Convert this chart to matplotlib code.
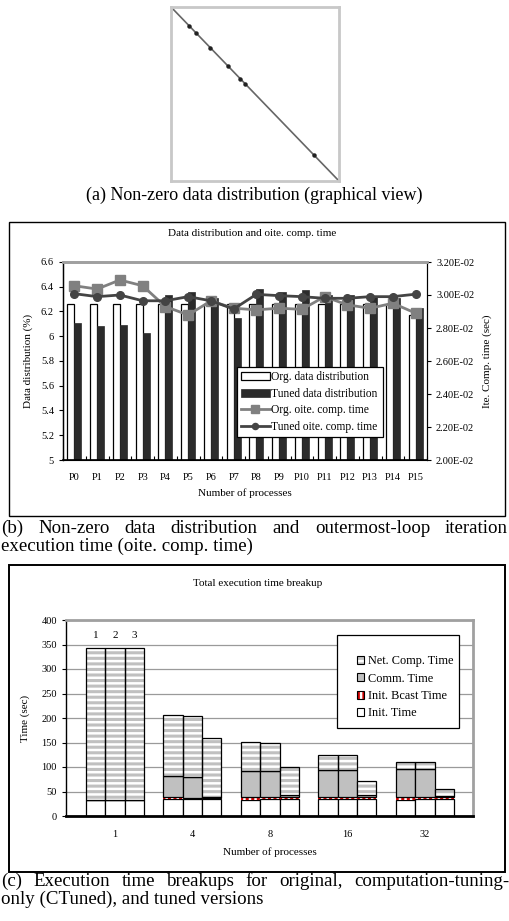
import matplotlib
matplotlib.use('Agg')
import matplotlib.pyplot as plt
import numpy as np
from matplotlib.patches import Rectangle, Patch
from matplotlib.lines import Line2D
from matplotlib.legend_handler import HandlerTuple

plt.rcParams['font.family'] = ['Liberation Serif', 'DejaVu Serif']
plt.rcParams['hatch.linewidth'] = 2.2

# ---------------- data ----------------
# (a) sparse matrix: positions (fraction along diagonal) of denser dots
diag_dots = [0.109, 0.149, 0.234, 0.337, 0.412, 0.44, 0.85]

# (b)
procs = ['P0', 'P1', 'P2', 'P3', 'P4', 'P5', 'P6', 'P7',
         'P8', 'P9', 'P10', 'P11', 'P12', 'P13', 'P14', 'P15']
org_dist = [6.26, 6.26, 6.26, 6.26, 6.26, 6.26, 6.26, 6.26,
            6.26, 6.26, 6.26, 6.26, 6.26, 6.26, 6.26, 6.17]
tuned_dist = [6.11, 6.08, 6.09, 6.03, 6.33, 6.36, 6.31, 6.15,
              6.38, 6.36, 6.37, 6.33, 6.33, 6.32, 6.31, 6.23]
org_time = [0.03056, 0.03036, 0.03091, 0.03056, 0.02930, 0.02879, 0.02964, 0.02920,
            0.02910, 0.02920, 0.02913, 0.02990, 0.02940, 0.02920, 0.02950, 0.02890]
tuned_time = [0.03008, 0.02990, 0.03000, 0.02965, 0.02965, 0.02990, 0.02965, 0.02915,
              0.03004, 0.02996, 0.02990, 0.02980, 0.02980, 0.02990, 0.02990, 0.03005]
left_ticks = [5, 5.2, 5.4, 5.6, 5.8, 6, 6.2, 6.4, 6.6]
left_labels = ['5', '5.2', '5.4', '5.6', '5.8', '6', '6.2', '6.4', '6.6']
right_ticks = [0.020, 0.022, 0.024, 0.026, 0.028, 0.030, 0.032]
right_labels = ['2.00E-02', '2.20E-02', '2.40E-02', '2.60E-02', '2.80E-02', '3.00E-02', '3.20E-02']

# (c)  versions: original, CTuned, tuned
groups = ['1', '4', '8', '16', '32']
version_labels = ['1', '2', '3']
init_time = [[32, 35, 33, 35, 33], [32, 34, 35, 35, 35], [32, 35, 35, 35, 35]]
bcast_time = [[0, 4, 5, 3, 5], [0, 3, 3, 3, 3], [0, 2, 3, 3, 3]]
comm_time = [[0, 42, 53, 55, 57], [0, 43, 53, 55, 57], [0, 2, 4, 4, 3]]
net_comp = [[310, 126, 61, 31, 15], [310, 124, 59, 31, 15], [310, 121, 58, 29, 15]]
c_ticks = [0, 50, 100, 150, 200, 250, 300, 350, 400]

# ---------------- figure ----------------
W, H = 509, 921
fig = plt.figure(figsize=(W / 100, H / 100), dpi=100)


def ax_px(x0, y0, x1, y1):
    return fig.add_axes([x0 / W, 1 - y1 / H, (x1 - x0) / W, (y1 - y0) / H])


def frame_px(x0, y0, x1, y1, lw=1.0):
    fig.patches.append(Rectangle((x0 / W, 1 - y1 / H), (x1 - x0) / W, (y1 - y0) / H,
                                 transform=fig.transFigure, fill=False,
                                 edgecolor='black', linewidth=lw, zorder=0))


def justified(words, y, x0, x1, fs):
    texts = [fig.text(0, 1 - y / H, w, fontsize=fs, va='center', ha='left') for w in words]
    fig.canvas.draw()
    r = fig.canvas.get_renderer()
    widths = [t.get_window_extent(r).width for t in texts]
    gap = (x1 - x0 - sum(widths)) / (len(words) - 1)
    x = x0
    for t, w in zip(texts, widths):
        t.set_x(x / W)
        x += w + gap


CAP_FS = 13.6

# ---------------- (a) ----------------
axa = ax_px(171, 7, 339, 181)
axa.set_xlim(0, 1)
axa.set_ylim(0, 1)
axa.plot([0, 1], [1, 0], color='#666666', lw=1.2)
d = np.array(diag_dots)
axa.plot(d, 1 - d, 'o', color='#222222', ms=2.2)
axa.set_xticks([])
axa.set_yticks([])
for s in axa.spines.values():
    s.set_color('#c8c8c8')
    s.set_linewidth(2)
fig.text(254 / W, 1 - 195 / H, '(a) Non-zero data distribution (graphical view)',
         fontsize=13, ha='center', va='center')

# ---------------- (b) ----------------
frame_px(9, 222, 505, 516, lw=1.0)
fig.text(252 / W, 1 - 233 / H, 'Data distribution and oite. comp. time',
         fontsize=8, ha='center', va='center')
axb = ax_px(63, 262, 427, 460)
x = np.arange(len(procs))
bw = 0.31
axb.bar(x - bw / 2, np.array(org_dist) - 5, bw, bottom=5, color='white',
        edgecolor='black', lw=0.9, label='Org. data distribution', zorder=2)
axb.bar(x + bw / 2, np.array(tuned_dist) - 5, bw, bottom=5, color='#2b2b2b',
        edgecolor='#2b2b2b', lw=0.5, label='Tuned data distribution', zorder=2)
axb.set_xlim(-0.5, len(procs) - 0.5)
axb.set_ylim(5, 6.6)
axb.set_yticks(left_ticks)
axb.set_yticklabels(left_labels)
axb.set_xticks(x)
axb.set_xticklabels(procs)
axb.set_xticks(np.arange(-0.5, len(procs)), minor=True)
axb.tick_params(axis='x', which='major', length=0, labelsize=7.5, pad=9)
axb.tick_params(axis='x', which='minor', direction='in', length=3, width=0.8)
axb.tick_params(axis='y', labelsize=7.5, length=3, width=0.8, direction='out')
axb.set_ylabel('Data distribution (%)', fontsize=8, labelpad=6)
axb.set_xlabel('Number of processes', fontsize=8, labelpad=5)
axb.spines['top'].set_color('#a0a0a0')
axb.spines['top'].set_linewidth(2)
axb.spines['left'].set_linewidth(1)
axb.spines['bottom'].set_linewidth(1.2)

axb2 = axb.twinx()
axb2.plot(x, org_time, '-s', color='#808080', lw=2, ms=6.5, label='Org. oite. comp. time', zorder=3)
axb2.plot(x, tuned_time, '-o', color='#444444', lw=2, ms=5.5, label='Tuned oite. comp. time', zorder=4)
axb2.set_ylim(0.020, 0.032)
axb2.set_yticks(right_ticks)
axb2.set_yticklabels(right_labels)
axb2.tick_params(axis='y', labelsize=7.5, length=3, width=0.8, direction='out')
axb2.set_ylabel('Ite. Comp. time (sec)', fontsize=8, labelpad=6)
axb2.spines['top'].set_color('#a0a0a0')
axb2.spines['top'].set_linewidth(2)
h1, l1 = axb.get_legend_handles_labels()
h2, l2 = axb2.get_legend_handles_labels()
legb = axb2.legend(h1 + h2, l1 + l2, loc='upper left',
                   bbox_to_anchor=((237 - 63) / 364, 1 - (441 - 262) / 198,
                                   (383 - 237) / 364, (441 - 367) / 198),
                   mode='expand', fontsize=8.3, frameon=True, fancybox=False,
                   edgecolor='black', framealpha=1, borderpad=0.35,
                   handlelength=2.5, handleheight=0.7, handletextpad=0.1,
                   labelspacing=0.4, borderaxespad=0, markerscale=0.8)
legb.get_frame().set_linewidth(0.9)

justified('(b) Non-zero data distribution and outermost-loop iteration'.split(),
          528, 1, 508, CAP_FS)
fig.text(1 / W, 1 - 546 / H, 'execution time (oite. comp. time)', fontsize=CAP_FS,
         ha='left', va='center')

# ---------------- (c) ----------------
frame_px(9, 565, 505, 872, lw=1.4)
fig.text(258 / W, 1 - 583 / H, 'Total execution time breakup',
         fontsize=8, ha='center', va='center')
axc = ax_px(66, 620, 473, 816)
gx = np.arange(len(groups))
cw = 0.25
for v in range(3):
    xs = gx + (v - 1) * cw
    ini = np.array(init_time[v])
    bc = np.array(bcast_time[v])
    cm = np.array(comm_time[v])
    nt = np.array(net_comp[v])
    axc.bar(xs, ini, cw, color='white', edgecolor='black', lw=0.9, zorder=2)
    axc.bar(xs, bc, cw, bottom=ini, color='white', edgecolor='#d00000', hatch='|||', lw=0, zorder=2)
    axc.bar(xs, cm, cw, bottom=ini + bc, color='#c0c0c0', edgecolor='black', lw=0.9, zorder=2)
    axc.bar(xs, nt, cw, bottom=ini + bc + cm, color='white', edgecolor='#c0c0c0',
            hatch='---', lw=0, zorder=2)
    axc.bar(xs, nt, cw, bottom=ini + bc + cm, fill=False, edgecolor='black', lw=0.9, zorder=3)
    tot0 = init_time[v][0] + bcast_time[v][0] + comm_time[v][0] + net_comp[v][0]
    axc.text(gx[0] + (v - 1) * cw, tot0 + 26, version_labels[v], fontsize=8,
             ha='center', va='center')
axc.set_xlim(-0.63, 4.62)
axc.set_ylim(0, 400)
axc.set_yticks(c_ticks)
axc.set_yticklabels([str(t) for t in c_ticks])
axc.set_xticks(gx)
axc.set_xticklabels(groups)
axc.tick_params(axis='x', length=0, labelsize=7.5, pad=10)
axc.tick_params(axis='y', labelsize=7.5, length=3, width=0.8)
axc.yaxis.grid(True, color='#9a9a9a', lw=0.9)
axc.set_axisbelow(True)
axc.set_ylabel('Time (sec)', fontsize=8, labelpad=8)
axc.set_xlabel('Number of processes', fontsize=8, labelpad=6)
axc.spines['top'].set_color('#a0a0a0')
axc.spines['top'].set_linewidth(2)
axc.spines['right'].set_color('#a0a0a0')
axc.spines['right'].set_linewidth(2)
axc.spines['left'].set_linewidth(1)
axc.spines['bottom'].set_linewidth(2)

# legend box
lx0, ly0, lx1, ly1 = 337, 635, 459, 728
axc.add_patch(Rectangle(((lx0 - 66) / 407, 1 - (ly1 - 620) / 196), (lx1 - lx0) / 407,
                        (ly1 - ly0) / 196, transform=axc.transAxes, facecolor='white',
                        edgecolor='black', lw=0.9, zorder=5))
hn = (Patch(facecolor='white', edgecolor='#c0c0c0', hatch='---', lw=0),
      Patch(fill=False, edgecolor='black', lw=0.8))
hc = Patch(facecolor='#c0c0c0', edgecolor='black', lw=0.8)
hb = (Patch(facecolor='white', edgecolor='#d00000', hatch='|||', lw=0),
      Patch(fill=False, edgecolor='black', lw=0.8))
hi = Patch(facecolor='white', edgecolor='black', lw=0.8)
legc = axc.legend([hn, hc, hb, hi], ['Net. Comp. Time', 'Comm. Time', 'Init. Bcast Time', 'Init. Time'],
                  handler_map={tuple: HandlerTuple(ndivide=1)},
                  loc='upper left',
                  bbox_to_anchor=((357 - 66) / 407, 1 - (655 - 620) / 196),
                  fontsize=8.8, frameon=False, handlelength=0.6, handleheight=0.6,
                  handletextpad=0.3, labelspacing=0.45, borderaxespad=0, borderpad=0)
legc.set_zorder(6)

justified('(c) Execution time breakups for original, computation-tuning-'.split(),
          881, 1, 509, CAP_FS)
fig.text(1 / W, 1 - 899 / H, 'only (CTuned), and tuned versions', fontsize=CAP_FS,
         ha='left', va='center')

fig.savefig('out.png', dpi=100)
